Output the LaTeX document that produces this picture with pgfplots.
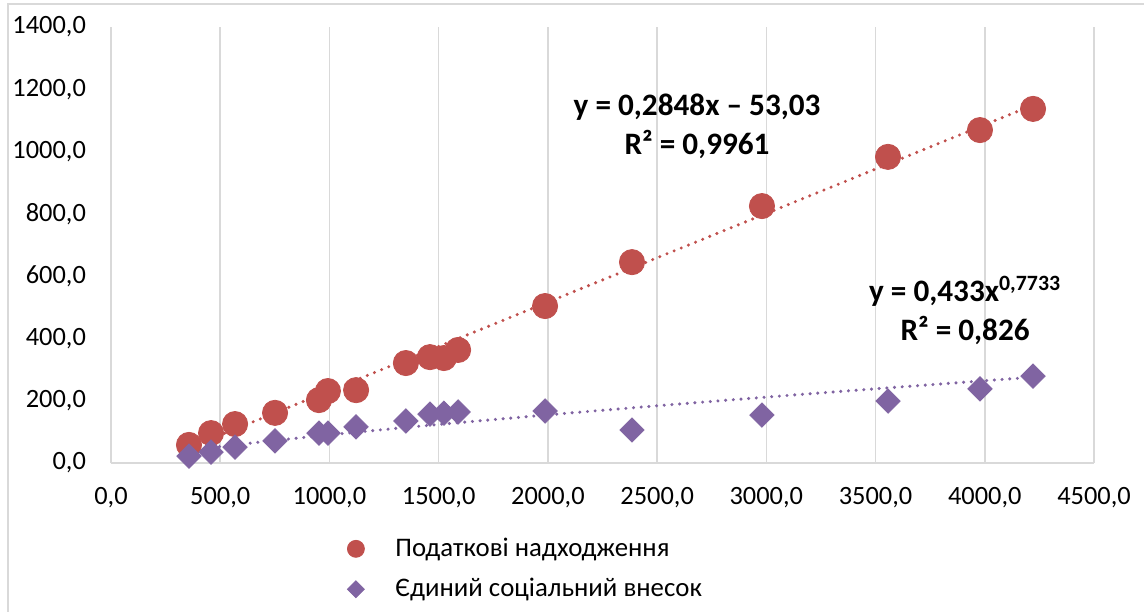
\documentclass[border=0pt]{standalone}
\usepackage{fontspec}
\setmainfont{Carlito}
\usepackage{pgfplots}
\pgfplotsset{compat=1.18}
\definecolor{redS}{HTML}{C0504D}
\definecolor{purpS}{HTML}{8064A2}
\definecolor{gridc}{HTML}{D9D9D9}
\begin{document}
\begin{tikzpicture}
\useasboundingbox (-55.5pt,-74pt) rectangle (516.5pt,231.5pt);
\draw[gridc, line width=1pt] (-51.5pt,-80pt) -- (-51.5pt,229.5pt) -- (530pt,229.5pt);
\begin{axis}[
  at={(0pt,0pt)}, anchor=south west,
  scale only axis, width=491.5pt, height=218pt,
  xmin=0, xmax=4500, ymin=0, ymax=1400,
  xtick={0,500,...,4500}, ytick={0,200,...,1400},
  axis x line*=bottom, axis y line*=left,
  axis line style={gridc, line width=0.75pt},
  xmajorgrids, major grid style={gridc, line width=0.75pt},
  major tick length=0pt,
  tick label style={font=\fontsize{13.2}{15}\selectfont},
  xticklabel style={yshift=-8.5pt},
  yticklabel style={xshift=-9pt},
  /pgf/number format/fixed, /pgf/number format/fixed zerofill,
  /pgf/number format/precision=1, /pgf/number format/use comma,
  /pgf/number format/1000 sep={}, /pgf/number format/assume math mode=true,
  legend image code/.code={\draw[#1] plot coordinates {(0pt,0pt)};},
  legend cell align=left,
  legend style={draw=none, fill=none, at={(axis description cs:0.234,-0.153)}, anchor=north west,
    font=\fontsize{13.4}{15}\selectfont, row sep=5.5pt,
    /tikz/every odd column/.style={column sep=13.5pt}},
]
\addplot[only marks, mark=*, mark size=6.3pt, color=redS, mark options={draw=redS, fill=redS},
  legend image post style={mark size=4.25pt}] coordinates {
  (357,58) (458,96) (568,125) (751,161) (952,202) (993,231) (1122,234)
  (1350,321) (1460,340) (1524,337) (1589,363) (1987,504) (2385,645)
  (2980,825) (3557,983) (3978,1069) (4221,1137)};
\addlegendentry{Податкові надходження}
\addplot[only marks, mark=square*, mark size=4.3pt, color=purpS, mark options={draw=purpS, fill=purpS, rotate=45},
  legend image post style={mark size=3pt}] coordinates {
  (357,22) (458,35) (568,51) (751,71) (952,96) (993,96) (1122,116)
  (1350,135) (1460,157) (1524,160) (1589,164) (1987,167) (2385,106)
  (2980,154) (3557,199) (3978,238) (4221,279)};
\addlegendentry{Єдиний соціальний внесок}
\addplot[forget plot, redS, line width=1.7pt, line cap=round, dash pattern=on 0pt off 3.85pt] coordinates {
  (357,48.6) (4221,1149.1)};
\addplot[forget plot, purpS, line width=1.7pt, line cap=round, dash pattern=on 0pt off 3.85pt, smooth] coordinates {
  (357,40.8) (500,52.9) (750,72.4) (1000,90.4) (1250,107.5) (1500,123.8) (2000,154.6)
  (2500,183.7) (3000,211.6) (3500,238.4) (4000,264.2) (4221,275.3)};
\node[font=\bfseries\fontsize{15.6}{19.5}\selectfont, align=center, text=black] at (axis cs:2683,1080)
  {y = 0,2848x – 53,03\\R² = 0,9961};
\node[font=\bfseries\fontsize{15.6}{19.5}\selectfont, align=center, text=black] at (axis cs:3910,490)
  {y = 0,433x\textsuperscript{0,7733}\\R² = 0,826};
\end{axis}
\end{tikzpicture}
\end{document}
